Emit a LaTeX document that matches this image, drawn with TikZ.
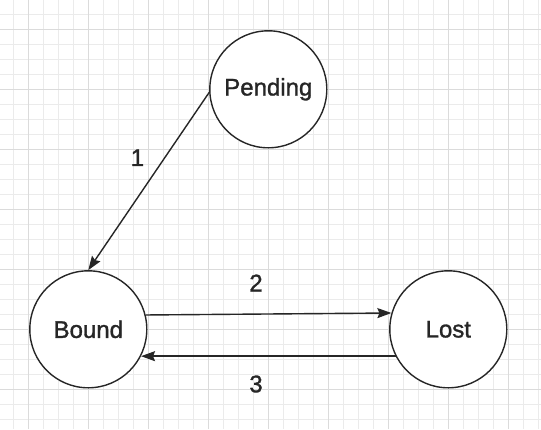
\documentclass[tikz,border=0pt]{standalone}
\usepackage{fontspec}
\setmainfont{Liberation Sans}
\newfontfamily\lblfont{Liberation Sans}[UprightFeatures={FakeBold=1.3}]
\usetikzlibrary{arrows.meta}
\begin{document}
\begin{tikzpicture}[x=1pt,y=-1pt,
  state/.style={circle,draw=black!85,line width=1.4pt,fill=white,minimum size=117pt,inner sep=0pt,font=\lblfont\fontsize{24}{29}\selectfont,text=black!85},
  conn/.style={draw=black!85,line width=1.4pt,-{Stealth[length=14pt,width=10pt,inset=2pt]}},
  lbl/.style={font=\lblfont\fontsize{24}{29}\selectfont,text=black!85,inner sep=0pt}]
\useasboundingbox (0,0) rectangle (541,429);
\fill[white] (0,0) rectangle (541,429);
\foreach \i in {0,...,35} {\draw[color=black!8,line width=0.8pt] (13.3+15*\i,0) -- (13.3+15*\i,429);}
\foreach \i in {0,...,28} {\draw[color=black!8,line width=0.8pt] (0,14.3+15*\i) -- (541,14.3+15*\i);}
\foreach \i in {0,...,8} {\draw[color=black!14,line width=0.8pt] (28.3+60*\i,0) -- (28.3+60*\i,429);}
\foreach \i in {0,...,6} {\draw[color=black!14,line width=0.8pt] (0,29.3+60*\i) -- (541,29.3+60*\i);}
\node[state] (P) at (268.3,89.3) {Pending};
\node[state] (B) at (88.3,329.3) {Bound};
\node[state] (L) at (448.3,329.3) {Lost};
\draw[conn] (P.183) -- (B.north);
\draw[conn] (B.14) -- (L.164);
\draw[conn] (L.207.5) -- (B.-27.5);
\node[lbl] (l1) at (137.5,157.7) {1};
\node[lbl] (l2) at (256,283) {2};
\node[lbl] (l3) at (256,384) {3};
\end{tikzpicture}
\end{document}
